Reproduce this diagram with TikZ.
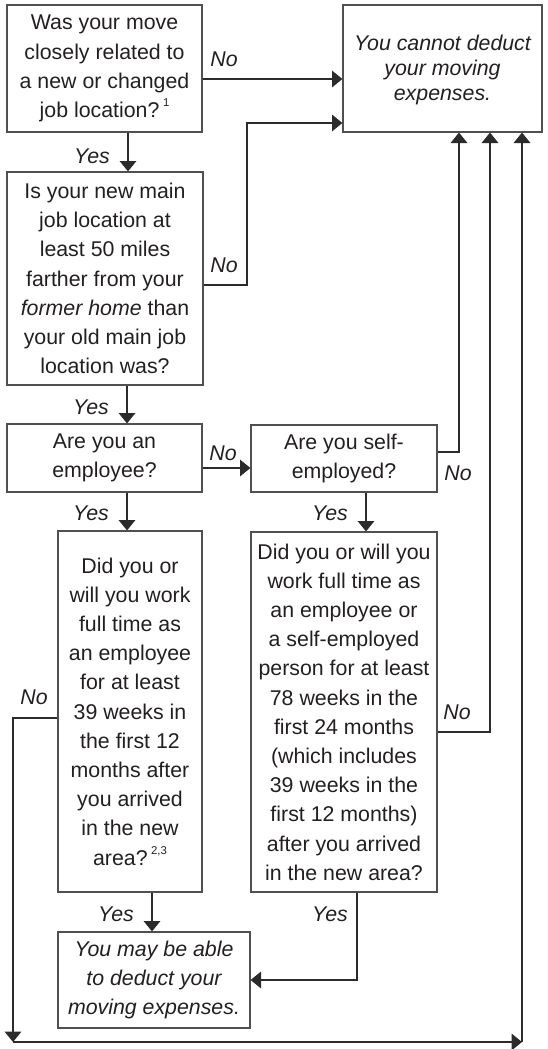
\documentclass[tikz,border=0pt]{standalone}
\usepackage{fontspec}
\setmainfont{Liberation Sans}
\usetikzlibrary{arrows.meta}
\definecolor{lc}{HTML}{2B2B2B}
\definecolor{bc}{HTML}{505050}
\definecolor{tc}{HTML}{231F20}
\newcommand\supnum[1]{\,\raisebox{0.5em}{\fontsize{8.5}{8.5}\selectfont #1}}
\begin{document}
\begin{tikzpicture}[x=0.75pt,y=-0.75pt,
 font=\fontsize{16}{21.9}\selectfont,
 box/.style 2 args={draw=bc, line width=0.9pt, minimum width=#1*0.75pt, minimum height=#2*0.75pt, inner sep=0pt, align=center, text=tc},
 lab/.style={font=\fontsize{16}{21.9}\selectfont\itshape, text=tc, inner sep=0pt},
 arr/.style={draw=lc, line width=0.9pt, -{Triangle[length=7.8pt,width=12.5pt]}},
]
\useasboundingbox (0,0) rectangle (548,1049);

% boxes
\node[box={195}{127}] (A) at (104.5,68.5) {Was your move\\closely related to\\a new or changed\\job location?\supnum{1}};
\node[box={199}{127}] (N) at (442.5,68.5) {};
\node[lab, align=center, font=\fontsize{16}{18.5}\selectfont\itshape] (Nt) at (442.5,70) {You cannot deduct\\your moving\\expenses.};
\node[box={196}{213}] (B) at (105,278.5) {Is your new main\\job location at\\least 50 miles\\farther from your\\\textit{former home} than\\your old main job\\location was?};
\node[box={195}{68}] (C) at (104.5,458) {Are you an\\employee?};
\node[box={186}{67}] (D) at (344,458.5) {Are you self-\\employed?};
\node[box={144}{361}] (E) at (130,711.5) {Did you or\\will you work\\full time as\\an employee\\for at least\\39 weeks in\\the first 12\\months after\\you arrived\\in the new\\area?\supnum{2,3}};
\node[box={186}{360}] (F) at (344,712) {Did you or will you\\work full time as\\an employee or\\a self-employed\\person for at least\\78 weeks in the\\first 24 months\\(which includes\\39 weeks in the\\first 12 months)\\after you arrived\\in the new area?};
\node[box={192}{96}, font=\fontsize{16}{21.4}\selectfont\itshape] (G) at (154,980) {You may be able\\to deduct your\\moving expenses.};

% helper coordinates
\coordinate (a1) at (0,79);
\coordinate (b1) at (247,285);
\coordinate (b2) at (247,123);
\coordinate (x128) at (128,0);
\coordinate (x127) at (127,0);
\coordinate (y468) at (0,468);
\coordinate (x366) at (366,0);
\coordinate (d1) at (459,452);
\coordinate (f1) at (490,732);
\coordinate (x152) at (152,0);
\coordinate (g1) at (357,980);
\coordinate (e1) at (13,718);
\coordinate (e2) at (13,1042);
\coordinate (e3) at (522,1042);

% connectors
\draw[arr] (A.east |- a1) -- (N.west |- a1);
\draw[arr] (B.east |- b1) -- (b1) -- (b2) -- (N.west |- b2);
\draw[arr] (A.south -| x128) -- (B.north -| x128);
\draw[arr] (B.south -| x127) -- (C.north -| x127);
\draw[arr] (C.east |- y468) -- (D.west |- y468);
\draw[arr] (C.south -| x127) -- (E.north -| x127);
\draw[arr] (D.south -| x366) -- (F.north -| x366);
\draw[arr] (D.east |- d1) -- (d1) -- (N.south -| d1);
\draw[arr] (F.east |- f1) -- (f1) -- (N.south -| f1);
\draw[arr] (E.south -| x152) -- (G.north -| x152);
\draw[arr] (F.south -| g1) -- (g1) -- (G.east |- g1);
\draw[arr] (E.west |- e1) -- (e1) -- (e2);
\draw[arr] (e2) -- (e3);
\draw[arr] (e3) -- (N.south -| e3);

% labels
\node[lab] (l1) at (224,59) {No};
\node[lab] (l2) at (224,265) {No};
\node[lab] (l3) at (92,156) {Yes};
\node[lab] (l4) at (91,407) {Yes};
\node[lab] (l5) at (223,453) {No};
\node[lab] (l6) at (91,513) {Yes};
\node[lab] (l7) at (330,513) {Yes};
\node[lab] (l8) at (458,473) {No};
\node[lab] (l9) at (457,712) {No};
\node[lab] (l10) at (34,697) {No};
\node[lab] (l11) at (116,914) {Yes};
\node[lab] (l12) at (330,914) {Yes};
\end{tikzpicture}
\end{document}
